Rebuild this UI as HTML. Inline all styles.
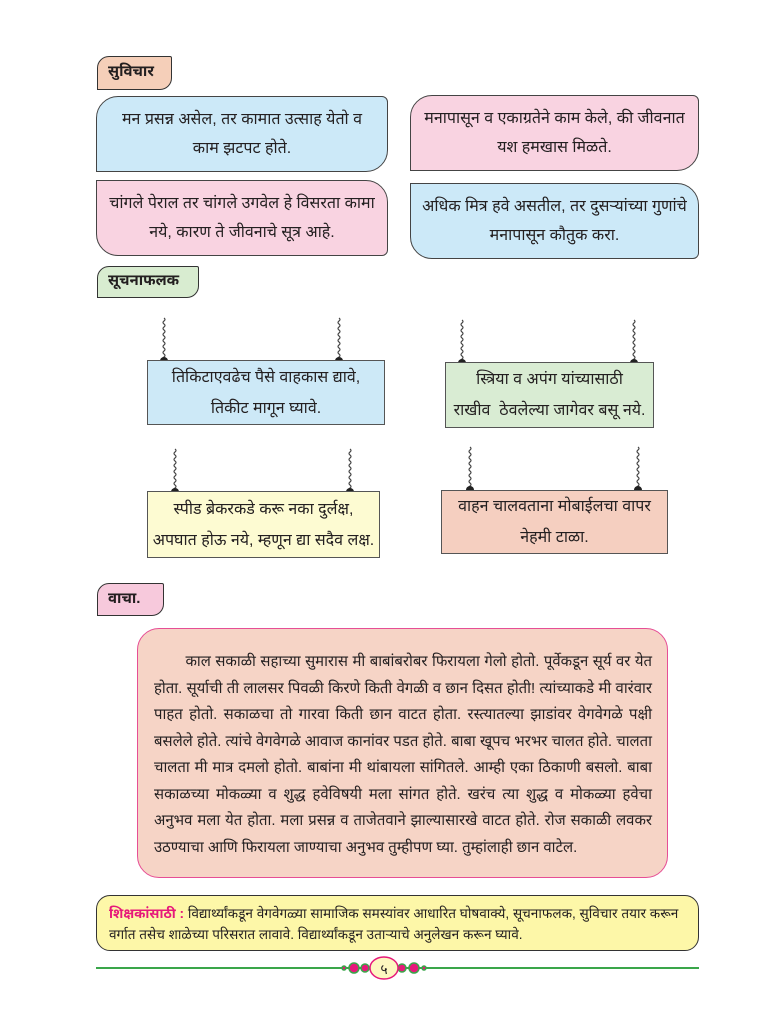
<!DOCTYPE html>
<html><head><meta charset="utf-8">
<style>
body{margin:0;width:767px;height:1024px;background:#fff;position:relative;font-family:"Liberation Sans","Noto Sans Devanagari","Lohit Devanagari","FreeSans",sans-serif;color:#231f20;overflow:hidden}
.a{position:absolute;box-sizing:border-box}
.tab{border:1.5px solid #333;font-weight:bold;font-size:15px;padding-left:10px;display:flex;align-items:center;border-radius:12px 2px 12px 0}
.card{border:1.5px solid #444;display:flex;align-items:center;justify-content:center;text-align:center;font-size:16px;line-height:29px;padding:0 8px}
.sign{border:1.5px solid #555;display:flex;align-items:center;justify-content:center;text-align:center;font-size:16px;line-height:31px;white-space:nowrap}
svg.s{position:absolute}
</style></head><body>

<div class="a tab" style="left:97px;top:56px;width:75px;height:34px;background:#f5cfb9">सुविचार</div>

<div class="a card" style="left:96px;top:96px;width:292px;height:76px;background:#cce9f8;border-radius:22px 6px 22px 0">मन प्रसन्न असेल, तर कामात उत्साह येतो व<br>काम झटपट होते.</div>
<div class="a card" style="left:96px;top:180px;width:292px;height:76px;background:#f9d3e1;border-radius:0 22px 6px 22px">चांगले पेराल तर चांगले उगवेल हे विसरता कामा<br>नये, कारण ते जीवनाचे सूत्र आहे.</div>
<div class="a card" style="left:410px;top:95px;width:289px;height:76px;background:#f9d3e1;border-radius:22px 6px 22px 0">मनापासून व एकाग्रतेने काम केले, की जीवनात<br>यश हमखास मिळते.</div>
<div class="a card" style="left:410px;top:183px;width:289px;height:76px;background:#cce9f8;border-radius:0 22px 6px 22px">अधिक मित्र हवे असतील, तर दुसऱ्यांच्या गुणांचे<br>मनापासून कौतुक करा.</div>

<div class="a tab" style="left:97px;top:266px;width:102px;height:32px;background:#d8ecd0">सूचनाफलक</div>

<svg class="s" style="left:0;top:0" width="767" height="600">
<defs>
<path id="w" d="M0 0 q2 1.5 0 3 q-2 1.5 0 3 q2 1.5 0 3 q-2 1.5 0 3 q2 1.5 0 3 q-2 1.5 0 3 q2 1.5 0 3 q-2 1.5 0 3 q2 1.5 0 3 q-2 1.5 0 3 q2 1.5 0 3 q-2 1.5 0 3 q2 1.5 0 3 q-2 1.5 0 3"/>
</defs>
<g fill="none" stroke="#444" stroke-width="1.2">
<use href="#w" x="164" y="318"/><use href="#w" x="339" y="318"/>
<use href="#w" x="462" y="320"/><use href="#w" x="634" y="320"/>
<use href="#w" x="175" y="449"/><use href="#w" x="350" y="449"/>
<use href="#w" x="470" y="447"/><use href="#w" x="638" y="447"/>
</g>
<g fill="#222">
<circle cx="164" cy="361" r="4"/><circle cx="339" cy="361" r="4"/>
<circle cx="462" cy="363" r="4"/><circle cx="634" cy="363" r="4"/>
<circle cx="175" cy="492" r="4"/><circle cx="350" cy="492" r="4"/>
<circle cx="470" cy="490" r="4"/><circle cx="638" cy="490" r="4"/>
</g>
</svg>

<div class="a sign" style="left:147px;top:360px;width:238px;height:65px;background:#cde9f7">तिकिटाएवढेच पैसे वाहकास द्यावे,<br>तिकीट मागून घ्यावे.</div>
<div class="a sign" style="left:445px;top:362px;width:209px;height:66px;background:#d9ecd3">स्त्रिया व अपंग यांच्यासाठी<br>राखीव &nbsp;ठेवलेल्या जागेवर बसू नये.</div>
<div class="a sign" style="left:147px;top:491px;width:233px;height:67px;background:#fdfbd2">स्पीड ब्रेकरकडे करू नका दुर्लक्ष,<br>अपघात होऊ नये, म्हणून द्या सदैव लक्ष.</div>
<div class="a sign" style="left:441px;top:490px;width:227px;height:64px;background:#f5cfc0">वाहन चालवताना मोबाईलचा वापर<br>नेहमी टाळा.</div>

<div class="a tab" style="left:97px;top:583px;width:67px;height:33px;background:#f7c9dc">वाचा.</div>

<div class="a" style="left:137px;top:628px;width:531px;height:250px;background:#f6d4c6;border:1.5px solid #e64e95;border-radius:22px;padding:20px 15px 0 16px;font-size:14.9px;line-height:26.5px;text-align:justify">&nbsp;&nbsp;&nbsp;&nbsp;&nbsp;&nbsp;&nbsp;काल सकाळी सहाच्या सुमारास मी बाबांबरोबर फिरायला गेलो होतो. पूर्वेकडून सूर्य वर येत होता. सूर्याची ती लालसर पिवळी किरणे किती वेगळी व छान दिसत होती! त्यांच्याकडे मी वारंवार पाहत होतो. सकाळचा तो गारवा किती छान वाटत होता. रस्त्यातल्या झाडांवर वेगवेगळे पक्षी बसलेले होते. त्यांचे वेगवेगळे आवाज कानांवर पडत होते. बाबा खूपच भरभर चालत होते. चालता चालता मी मात्र दमलो होतो. बाबांना मी थांबायला सांगितले. आम्ही एका ठिकाणी बसलो. बाबा सकाळच्या मोकळ्या व शुद्ध हवेविषयी मला सांगत होते. खरंच त्या शुद्ध व मोकळ्या हवेचा अनुभव मला येत होता. मला प्रसन्न व ताजेतवाने झाल्यासारखे वाटत होते. रोज सकाळी लवकर उठण्याचा आणि फिरायला जाण्याचा अनुभव तुम्हीपण घ्या. तुम्हांलाही छान वाटेल.</div>

<div class="a" style="left:96px;top:895px;width:603px;height:56px;background:#fdf7a8;border:1.5px solid #333;border-radius:14px;padding:7px 10px 0 12px;font-size:13.6px;line-height:21px"><span style="color:#e6197a;font-weight:bold">शिक्षकांसाठी :</span> विद्यार्थ्यांकडून वेगवेगळ्या सामाजिक समस्यांवर आधारित घोषवाक्ये, सूचनाफलक, सुविचार तयार करून वर्गात तसेच शाळेच्या परिसरात लावावे. विद्यार्थ्यांकडून उताऱ्याचे अनुलेखन करून घ्यावे.</div>

<svg class="s" style="left:0;top:950px" width="767" height="40">
<line x1="96" y1="18" x2="699" y2="18" stroke="#3aa64a" stroke-width="2"/>
<g fill="#e6197a" stroke="#3aa64a" stroke-width="1.5">
<circle cx="354" cy="18" r="5"/><circle cx="365" cy="18" r="4" /><circle cx="402" cy="18" r="4"/><circle cx="414" cy="18" r="5"/>
<circle cx="344" cy="18" r="2"/><circle cx="424" cy="18" r="2"/>
</g>
<ellipse cx="384" cy="18" rx="14" ry="11" fill="#fdf7c0" stroke="#e6197a" stroke-width="1.5"/>
<text x="384" y="24" text-anchor="middle" font-size="14" fill="#231f20" font-family="Liberation Sans, sans-serif">५</text>
</svg>
</body></html>
